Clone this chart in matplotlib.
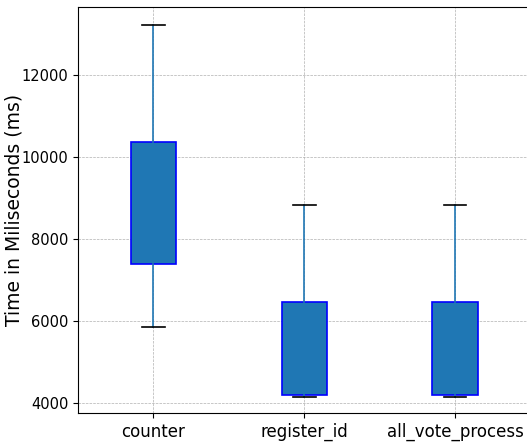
import matplotlib
matplotlib.use("Agg")
import matplotlib.pyplot as plt

# values (ms)
labels = ["counter", "register_id", "all_vote_process"]
whislo = [5850, 4150, 4150]
q1 = [7380, 4200, 4200]
med = [8800, 5200, 5200]
q3 = [10360, 6450, 6450]
whishi = [13220, 8820, 8820]

stats = []
for i in range(len(labels)):
    stats.append({"label": labels[i], "whislo": whislo[i], "q1": q1[i],
                  "med": med[i], "q3": q3[i], "whishi": whishi[i], "fliers": []})

fig = plt.figure(figsize=(5.27, 4.43), dpi=100)
ax = fig.add_axes([78 / 527, 30 / 443, 452.5 / 527, 406 / 443])

ax.bxp(stats, widths=0.3, patch_artist=True, showfliers=False,
       boxprops=dict(facecolor="#1f77b4", edgecolor="blue", linewidth=1.2),
       whiskerprops=dict(color="#1f77b4", linewidth=1.2),
       capprops=dict(color="black", linewidth=1.2),
       medianprops=dict(linewidth=0))

ax.set_ylim(3750, 13660)
ax.set_xlim(0.5, 3.5)
ax.grid(True, linestyle="--", linewidth=0.5, color="#b0b0b0")
ax.set_axisbelow(True)
ax.set_ylabel("Time in Miliseconds (ms)", fontsize=13.5)
ax.yaxis.set_label_coords(-0.12, 0.5)
ax.tick_params(axis="x", labelsize=12)
ax.tick_params(axis="y", labelsize=10.5)

fig.savefig("out.png", dpi=100)
